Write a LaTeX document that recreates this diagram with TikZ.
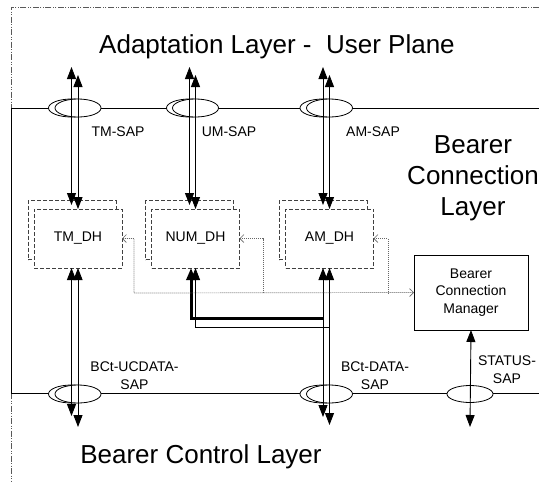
\documentclass[tikz,border=0pt]{standalone}
\usepackage{fontspec}
\setmainfont{Liberation Sans}
\usetikzlibrary{arrows.meta,shapes.geometric}
\begin{document}
\begin{tikzpicture}[x=1pt,y=-1pt,
  every node/.style={inner sep=0pt,outer sep=0pt},
  frame/.style={line width=0.8pt,black!65,dash pattern=on 6pt off 1.5pt on 1pt off 1.5pt on 1pt off 1.5pt},
  layerline/.style={line width=0.8pt},
  sap/.style={ellipse,draw,fill=white,line width=0.8pt,minimum width=46pt,minimum height=18pt},
  dhbox/.style={draw=black!75,fill=white,line width=0.8pt,dash pattern=on 4pt off 2pt,minimum width=88pt,minimum height=59pt,font=\fontsize{14}{17}\selectfont},
  mgrbox/.style={draw,fill=white,line width=0.8pt,minimum width=114pt,minimum height=75pt,align=center,font=\fontsize{14}{17.5}\selectfont},
  dbl/.style={line width=0.9pt,{Triangle[length=12pt,width=9pt]}-{Triangle[length=12pt,width=9pt]}},
  ctl/.style={black!60,line width=0.7pt,dash pattern=on 1pt off 1pt},
  lbl/.style={font=\fontsize{14}{17.5}\selectfont,align=center,anchor=base},
  title/.style={font=\fontsize{26}{31}\selectfont,align=center,anchor=base}
]
\useasboundingbox (0,0) rectangle (539,482);
\fill[white] (0,0) rectangle (539,482);

% outer frame (dash-dot) and the bearer connection layer
\draw[frame] (539,7) -- (11,7) -- (11,108);
\draw[frame] (11,393) -- (11,482);
\draw[layerline] (539,108) -- (11,108) -- (11,393) -- (539,393);

% service access points on the upper boundary
\node[sap] (tmSapB) at (71.5,108) {};
\node[sap] (tmSapF) at (78,108) {};
\node[sap] (umSapB) at (189.5,108) {};
\node[sap] (umSapF) at (195.5,108) {};
\node[sap] (amSapB) at (323,108) {};
\node[sap] (amSapF) at (329.5,108) {};

% service access points on the lower boundary
\node[sap] (ucSapB) at (71.5,394) {};
\node[sap] (ucSapF) at (78,394) {};
\node[sap] (dSapB) at (323,394) {};
\node[sap] (dSapF) at (329.5,394) {};
\node[sap,minimum width=46pt,minimum height=17pt] (stSap) at (470,394) {};

% data handlers (stacked instances)
\node[dhbox] (tmBack) at (72,230) {};
\node[dhbox] (tmDH) at (78,238.5) {TM\_DH};
\node[dhbox] (numBack) at (189.5,230) {};
\node[dhbox] (numDH) at (195.5,238.5) {NUM\_DH};
\node[dhbox] (amBack) at (323,230) {};
\node[dhbox] (amDH) at (329.5,238.5) {AM\_DH};

% bearer connection manager
\node[mgrbox] (bcm) at (471,292.5) {Bearer\\Connection\\Manager};

% free ends of the data paths
\coordinate (tmTopA) at (71.5,67);
\coordinate (tmTopB) at (78,75);
\coordinate (tmInA) at (71.5,205);
\coordinate (umTopA) at (189.5,67);
\coordinate (umTopB) at (195.5,75);
\coordinate (umInA) at (189.5,205);
\coordinate (amTopA) at (323,67);
\coordinate (amTopB) at (329.5,75);
\coordinate (amInA) at (323,205);
\coordinate (tmOutA) at (71.5,268);
\coordinate (tmBotA) at (71.5,416);
\coordinate (tmBotB) at (78,427);
\coordinate (amOutA) at (323,268);
\coordinate (amBotA) at (323,417);
\coordinate (amBotB) at (329.5,425);
\coordinate (stBot) at (470,427);
\coordinate (numOutA) at (191,268);
\coordinate (numJoinA) at (323,318);
\coordinate (numJoinB) at (329.5,327);

% upper data paths
\draw[dbl] (tmTopA) -- (tmInA);
\draw[dbl] (tmTopB) -- (tmDH.north);
\draw[dbl] (umTopA) -- (umInA);
\draw[dbl] (umTopB) -- (numDH.north);
\draw[dbl] (amTopA) -- (amInA);
\draw[dbl] (amTopB) -- (amDH.north);

% lower data paths
\draw[dbl] (tmOutA) -- (tmBotA);
\draw[dbl] (tmDH.south) -- (tmBotB);
\draw[dbl] (amOutA) -- (amBotA);
\draw[dbl] (amDH.south) -- (amBotB);
\draw[dbl] (bcm.south) -- (stBot);

% NUM_DH joins the AM lower path
\draw[line width=3pt,{Triangle[length=12pt,width=9pt]}-] (numOutA) |- (numJoinA);
\draw[line width=0.8pt,{Triangle[length=12pt,width=9pt]}-] (numDH.south) |- (numJoinB);

% control from the connection manager
\draw[ctl,{Straight Barb[length=4pt,width=8pt]}-{Straight Barb[length=4pt,width=8pt]}] (tmDH.east) -| (134,293) -- (bcm.west);
\draw[ctl,{Straight Barb[length=4pt,width=8pt]}-] (numDH.east) -| (263,293);
\draw[ctl,{Straight Barb[length=4pt,width=8pt]}-] (amDH.east) -| (388,293);

% layer titles (base anchor sits on the last line)
\node[title] (tAdapt) at (277,53) {Adaptation Layer -\ \ User Plane};
\node[title] (tBcl) at (473,215) {Bearer\\Connection\\Layer};
\node[title] (tCtl) at (201,463) {Bearer Control Layer};

% access point labels
\node[lbl] (lTm) at (118,136) {TM-SAP};
\node[lbl] (lUm) at (229,136) {UM-SAP};
\node[lbl] (lAm) at (373,136) {AM-SAP};
\node[lbl] (lUc) at (134.5,389) {BCt-UCDATA-\\SAP};
\node[lbl] (lD) at (375,389) {BCt-DATA-\\SAP};
\node[lbl] (lSt) at (507,383) {STATUS-\\SAP};
\end{tikzpicture}
\end{document}
